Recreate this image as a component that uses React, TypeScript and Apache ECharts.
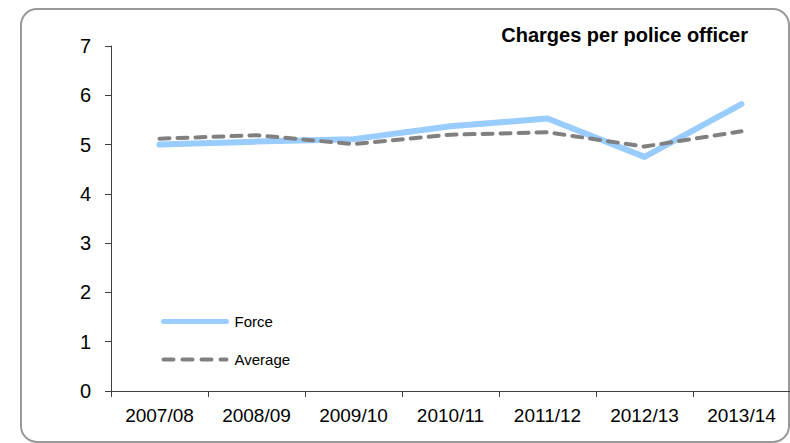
import React, { useEffect, useRef } from "react";
import * as echarts from "echarts";

const categories = ["2007/08", "2008/09", "2009/10", "2010/11", "2011/12", "2012/13", "2013/14"];
const forceValues = [5.0, 5.06, 5.11, 5.37, 5.53, 4.75, 5.82];
const averageValues = [5.12, 5.19, 5.01, 5.2, 5.25, 4.96, 5.27];
const titleText = "Charges per police officer";

export default function App() {
  const ref = useRef<HTMLDivElement>(null);
  useEffect(() => {
    if (!ref.current) return;
    const chart = echarts.init(ref.current, null, { renderer: "svg" });
    chart.setOption({
      animation: false,
      title: {
        text: titleText,
        right: 37,
        top: 20,
        padding: 5,
        textStyle: { fontFamily: "Arial, Liberation Sans", fontSize: 20, fontWeight: "bold", color: "#000" },
      },
      graphic: [
        {
          type: "rect",
          x: 21,
          y: 9,
          shape: { width: 768, height: 433, r: 16 },
          style: { fill: "none", stroke: "#999", lineWidth: 2 },
          silent: true,
        },
      ],
      legend: {
        orient: "vertical",
        left: 161,
        top: 314,
        padding: 0,
        itemWidth: 63,
        itemHeight: 14,
        itemGap: 23,
        itemStyle: { opacity: 0 },
        data: [
          { name: "Force", itemStyle: { opacity: 0 }, lineStyle: { width: 5, cap: "round" } },
          { name: "Average", itemStyle: { opacity: 0 }, lineStyle: { width: 4, type: [10, 9], cap: "round" } },
        ],
        textStyle: { fontFamily: "Arial, Liberation Sans", fontSize: 15, color: "#000", padding: [0, 0, 0, 3] },
      },
      grid: { left: 111, top: 46, width: 680, bottom: 52 },
      xAxis: {
        type: "category",
        data: categories,
        boundaryGap: true,
        axisLine: { lineStyle: { color: "#404040", width: 1 } },
        axisTick: { show: true, length: 6, lineStyle: { color: "#404040" } },
        axisLabel: { margin: 15, fontFamily: "Arial, Liberation Sans", fontSize: 19, color: "#000" },
      },
      yAxis: {
        type: "value",
        min: 0,
        max: 7,
        interval: 1,
        splitLine: { show: false },
        axisLine: { show: true, lineStyle: { color: "#404040", width: 1 } },
        axisTick: { show: true, length: 6, lineStyle: { color: "#404040" } },
        axisLabel: { margin: 20, fontFamily: "Arial, Liberation Sans", fontSize: 20, color: "#000" },
      },
      series: [
        {
          name: "Force",
          type: "line",
          data: forceValues,
          symbol: "none",
          lineStyle: { color: "#99CCFF", width: 6, cap: "round", join: "round" },
          itemStyle: { color: "#99CCFF" },
          z: 2,
        },
        {
          name: "Average",
          type: "line",
          data: averageValues,
          symbol: "none",
          lineStyle: { color: "#808080", width: 4, type: [10, 8], cap: "round", join: "round" },
          itemStyle: { color: "#808080" },
          z: 3,
        },
      ],
    });
    return () => chart.dispose();
  }, []);
  return (
    <div
      ref={ref}
      style={{ position: "fixed", left: 0, top: 0, width: 790, height: 443, background: "#fff" }}
    />
  );
}
